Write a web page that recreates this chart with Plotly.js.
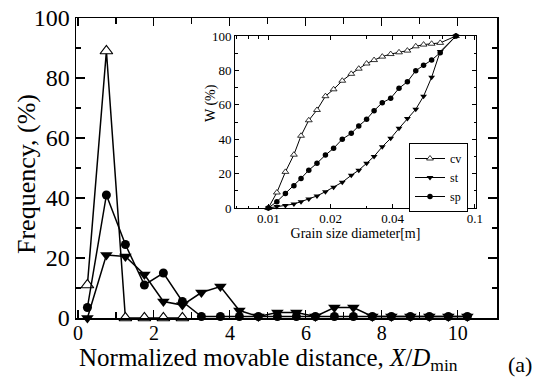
<!DOCTYPE html>
<html>
<head>
<meta charset="utf-8">
<script src="https://cdn.plot.ly/plotly-3.0.1.min.js"></script>
<style>html,body{margin:0;padding:0;background:#fff;}#chart{width:544px;height:384px;}</style>
</head>
<body>
<div id="chart"></div>
<script>
// ---- main plot data: frequency vs normalized movable distance ----
const distX = [0.25,0.75,1.25,1.75,2.25,2.75,3.25,3.75,4.25,4.75,5.25,5.75,6.25,6.75,7.25,7.75,8.25,8.75,9.25,9.75,10.25];
const cvX = [0.25,0.75,1.25,1.75,2.25,2.75];
const cvFreq = [11,89,0,0,0,0];
const stFreq = [0,21,20.5,14.5,5.5,4.3,8.5,10.5,2.5,0.5,1.8,1.8,0.5,3.5,3.5,0.5,0.5,0.5,0.5,0.5,0.5];
const spFreq = [3.5,41,24.5,11,15,5.5,0.5,0.5,0.5,0.5,0.5,0.5,0.5,0.5,0.5,0.5,0.5,0.5,0.5,0.5,0.5];

// ---- inset data: cumulative weight vs grain size diameter ----
const grainD = [0.0100,0.0110,0.0121,0.0133,0.0144,0.0157,0.0172,0.0189,0.0207,0.0228,0.0252,0.0274,0.0299,0.0325,0.0356,0.0391,0.0429,0.0471,0.0517,0.0564,0.0617,0.0679,0.0809];
const cvW = [0,9,21,31,42,51,57,65,69,74,78,81,84,86,88,89.5,90.5,91.5,94,95,95.5,96,100];
const stW = [0,0.8,1.4,2.3,3.7,5.2,7,9.5,12,15,19,22,26,30,35.6,40.5,46.3,52,57.4,65,76,91,100];
const spW = [0,3.7,8.5,13,17.2,22,26,30.8,34.7,40,43.4,47.7,51.6,56.6,61.2,63.8,69.6,73.4,79.8,83,86,90.3,100];

const mainXTicks = [0,2,4,6,8,10];
const mainYTicks = [0,20,40,60,80,100];
const insetXTicks = [0.01,0.02,0.04,0.1];
const insetXTickText = ['0.01','0.02','0.04','0.1'];
const insetYTicks = [0,20,40,60,80,100];

// ---- geometry (pixels) ----
const W = 544, H = 384;
const L = 76, R = 497, T = 18, B = 318;
const px = x => (x - L) / (R - L);
const py = y => (B - y) / (B - T);

const serif = 'Liberation Serif, Times New Roman, serif';

const traces = [
  {x: cvX, y: cvFreq, type: 'scatter', mode: 'lines+markers', name: 'cv', showlegend: false, cliponaxis: false,
   line: {color: '#000', width: 1.5},
   marker: {symbol: 'triangle-up', size: 11, color: '#fff', line: {color: '#000', width: 1.2}}},
  {x: distX, y: stFreq, type: 'scatter', mode: 'lines+markers', name: 'st', showlegend: false, cliponaxis: false,
   line: {color: '#000', width: 1.5},
   marker: {symbol: 'triangle-down', size: 11, color: '#000'}},
  {x: distX, y: spFreq, type: 'scatter', mode: 'lines+markers', name: 'sp', showlegend: false, cliponaxis: false,
   line: {color: '#000', width: 1.5},
   marker: {symbol: 'circle', size: 9, color: '#000'}},
  {x: grainD, y: cvW, xaxis: 'x2', yaxis: 'y2', type: 'scatter', mode: 'lines+markers', name: 'cv', cliponaxis: false,
   line: {color: '#000', width: 1},
   marker: {symbol: 'triangle-up', size: 6, color: '#fff', line: {color: '#000', width: 0.8}}},
  {x: grainD, y: stW, xaxis: 'x2', yaxis: 'y2', type: 'scatter', mode: 'lines+markers', name: 'st', cliponaxis: false,
   line: {color: '#000', width: 1},
   marker: {symbol: 'triangle-down', size: 6, color: '#000'}},
  {x: grainD, y: spW, xaxis: 'x2', yaxis: 'y2', type: 'scatter', mode: 'lines+markers', name: 'sp', cliponaxis: false,
   line: {color: '#000', width: 1},
   marker: {symbol: 'circle', size: 5.5, color: '#000'}}
];

const IL = 235, IR = 476, IT = 36, IB = 208;

const layout = {
  width: W, height: H,
  margin: {l: L, r: W - R, t: T, b: H - B, pad: 0},
  paper_bgcolor: '#fff', plot_bgcolor: '#fff',
  font: {family: serif, color: '#000'},
  showlegend: true,
  legend: {x: px(409), y: py(143), xanchor: 'left', yanchor: 'top',
           bgcolor: '#fff', bordercolor: '#000', borderwidth: 1,
           font: {family: serif, size: 12, color: '#000'},
           itemwidth: 30, tracegroupgap: 0},
  xaxis: {range: [-0.05, 11.03], tickvals: mainXTicks, ticktext: mainXTicks.map(String),
          ticks: 'inside', ticklen: 8, tickwidth: 1.2, tickcolor: '#000',
          minor: {tickvals: [1,3,5,7,9], ticks: 'inside', ticklen: 6, tickwidth: 1.2, tickcolor: '#000'},
          showline: true, linecolor: '#000', linewidth: 1.5, mirror: 'ticks',
          showgrid: false, zeroline: false, ticklabelstandoff: -4,
          tickfont: {family: serif, size: 20, color: '#000'}},
  yaxis: {range: [0, 100], tickvals: mainYTicks, ticktext: mainYTicks.map(String),
          ticks: 'inside', ticklen: 9, tickwidth: 1.2, tickcolor: '#000',
          minor: {dtick: 10, ticks: 'inside', ticklen: 5, tickwidth: 1.2, tickcolor: '#000'},
          showline: true, linecolor: '#000', linewidth: 1.5, mirror: 'ticks',
          showgrid: false, zeroline: false,
          tickfont: {family: serif, size: 24, color: '#000'}},
  xaxis2: {type: 'log', range: [Math.log10(0.0069), -0.995], domain: [px(IL), px(IR)], anchor: 'y2',
           tickvals: insetXTicks, ticktext: insetXTickText,
           ticks: 'inside', ticklen: 4, tickwidth: 1, tickcolor: '#000',
           minor: {tickvals: [0.007,0.008,0.009,0.03,0.05,0.06,0.07,0.08,0.09], ticks: 'inside', ticklen: 2.5, tickwidth: 1, tickcolor: '#000'},
           showline: true, linecolor: '#000', linewidth: 1, mirror: 'ticks',
           showgrid: false, zeroline: false, ticklabelstandoff: -2,
           tickfont: {family: serif, size: 13, color: '#000'},
           title: {text: 'Grain size diameter[m]', font: {family: serif, size: 14, color: '#000'}, standoff: 0}},
  yaxis2: {range: [0, 100], domain: [py(IB), py(IT)], anchor: 'x2',
           tickvals: insetYTicks, ticktext: insetYTicks.map(String),
           ticks: 'inside', ticklen: 4, tickwidth: 1, tickcolor: '#000',
           minor: {dtick: 10, ticks: 'inside', ticklen: 2.5, tickwidth: 1, tickcolor: '#000'},
           showline: true, linecolor: '#000', linewidth: 1, mirror: 'ticks',
           showgrid: false, zeroline: false,
           tickfont: {family: serif, size: 13, color: '#000'}},
  annotations: [
    {text: 'Frequency, (%)', xref: 'paper', yref: 'paper', x: px(26), y: py(174),
     xanchor: 'center', yanchor: 'middle', textangle: -90, showarrow: false,
     font: {family: serif, size: 26, color: '#000'}},
    {text: 'Normalized movable distance, <i>X</i>/<i>D</i><sub>min</sub>', xref: 'paper', yref: 'paper',
     x: px(268), y: py(359), xanchor: 'center', yanchor: 'middle', showarrow: false,
     font: {family: serif, size: 25, color: '#000'}},
    {text: '(a)', xref: 'paper', yref: 'paper', x: px(520), y: py(364),
     xanchor: 'center', yanchor: 'middle', showarrow: false,
     font: {family: serif, size: 22, color: '#000'}},
    {text: 'W (%)', xref: 'paper', yref: 'paper', x: px(211), y: py(103),
     xanchor: 'center', yanchor: 'middle', textangle: -90, showarrow: false,
     font: {family: serif, size: 14, color: '#000'}}
  ]
};

Plotly.newPlot('chart', traces, layout, {displayModeBar: false, staticPlot: true});
</script>
</body>
</html>
